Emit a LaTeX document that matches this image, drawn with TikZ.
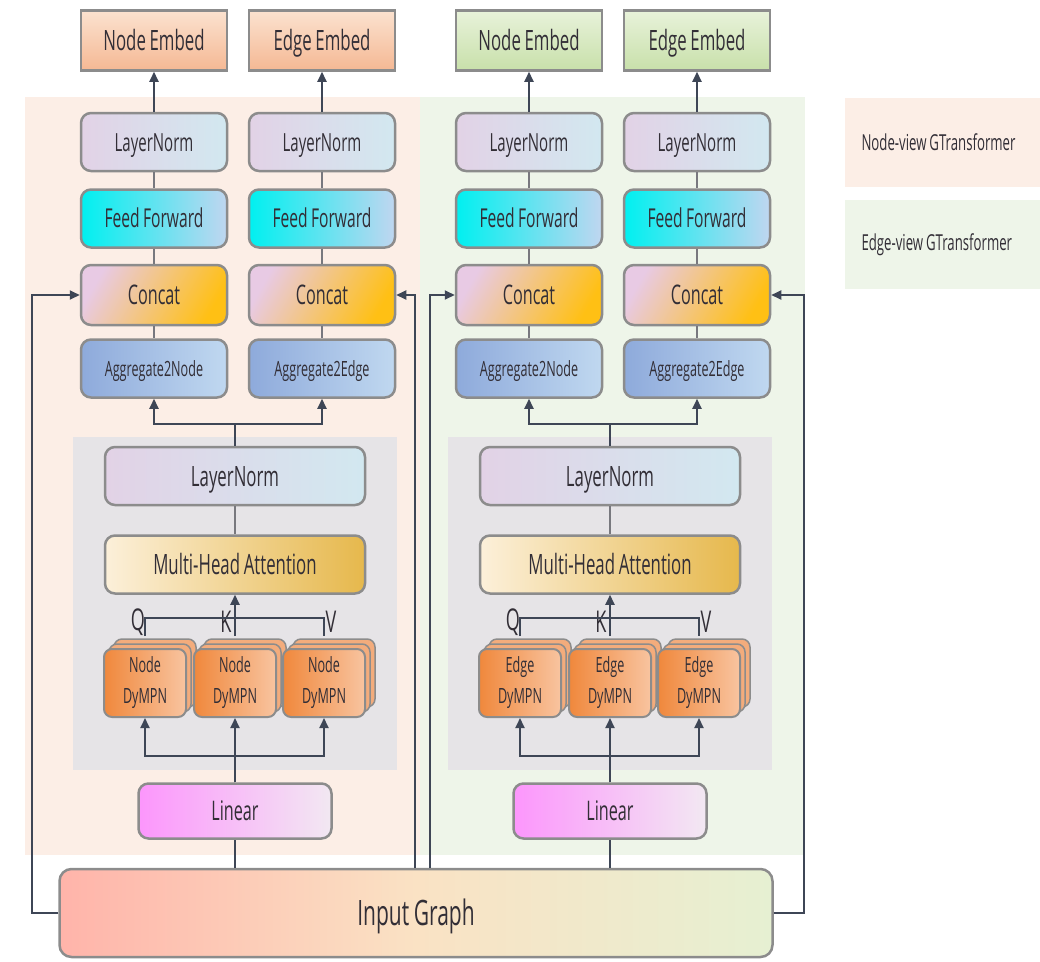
\documentclass[tikz,border=0pt]{standalone}
\usepackage{fontspec}
\setmainfont[FakeStretch=0.6, WordSpace=0.85]{Open Sans}
\usetikzlibrary{positioning,arrows.meta,shadows}
\definecolor{PeachBg}{RGB}{252,238,230}
\definecolor{GreenBg}{RGB}{238,245,233}
\definecolor{PanelGray}{RGB}{230,228,231}
\definecolor{BoxGray}{RGB}{140,140,140}
\definecolor{TextDark}{RGB}{50,46,54}
\definecolor{LineSlate}{RGB}{62,70,86}
\definecolor{LinkGray}{RGB}{120,120,126}
\definecolor{EmbNTop}{RGB}{251,226,208}
\definecolor{EmbNBot}{RGB}{245,184,148}
\definecolor{EmbETop}{RGB}{232,242,218}
\definecolor{EmbEBot}{RGB}{200,224,170}
\definecolor{LnLeft}{RGB}{226,210,230}
\definecolor{LnRight}{RGB}{210,232,240}
\definecolor{FfLeft}{RGB}{0,240,240}
\definecolor{FfRight}{RGB}{192,214,240}
\definecolor{CatLeft}{RGB}{232,202,228}
\definecolor{CatRight}{RGB}{255,192,20}
\definecolor{AggLeft}{RGB}{142,170,219}
\definecolor{AggRight}{RGB}{192,216,240}
\definecolor{MhaLeft}{RGB}{252,240,218}
\definecolor{MhaRight}{RGB}{230,184,76}
\definecolor{DyLeft}{RGB}{240,136,60}
\definecolor{DyRight}{RGB}{248,196,160}
\definecolor{DyBack}{RGB}{243,172,124}
\definecolor{LinLeft}{RGB}{252,150,252}
\definecolor{LinRight}{RGB}{242,232,242}
\definecolor{IgLeft}{RGB}{255,180,170}
\definecolor{IgMid}{RGB}{250,226,196}
\definecolor{IgRight}{RGB}{230,240,210}

\begin{document}
\begin{tikzpicture}[x=1pt, y=-1pt,
    block/.style={rectangle, rounded corners=10pt, draw=BoxGray, line width=2.5pt, minimum width=146pt, minimum height=58pt, align=center, text=TextDark, text height=18pt, text depth=0pt, font=\fontsize{25}{28}\selectfont},
    embed/.style={block, sharp corners, minimum height=60pt, text height=20pt, font=\fontsize{28}{30}\selectfont},
    lnfill/.style={left color=LnLeft, right color=LnRight},
    fffill/.style={left color=FfLeft, right color=FfRight, font=\fontsize{26}{28}\selectfont},
    catfill/.style={left color=CatLeft, right color=CatRight, shading angle=60, text height=19pt, font=\fontsize{27}{30}\selectfont},
    aggfill/.style={left color=AggLeft, right color=AggRight, text height=15pt, font=\fontsize{21}{24}\selectfont},
    dympn/.style={block, rounded corners=8pt, line width=2pt, minimum width=82pt, minimum height=68pt, text height={}, text depth={}, left color=DyLeft, right color=DyRight, font=\fontsize{21}{31}\selectfont, double copy shadow={shadow xshift=5pt, shadow yshift=5pt, fill=DyBack, draw=BoxGray, line width=1.5pt}},
    legend/.style={rectangle, minimum width=195pt, minimum height=89pt, inner xsep=17pt, text width=161pt, align=flush left, text=TextDark, font=\fontsize{22}{24}\selectfont},
    qkv/.style={text=TextDark, font=\fontsize{30}{32}\selectfont, inner sep=0pt},
    arrow/.style={-{Triangle[length=10pt, width=9pt]}, line width=2pt, draw=LineSlate},
    wire/.style={line width=2pt, draw=LineSlate},
    link/.style={line width=1.5pt, draw=LinkGray}
]
\useasboundingbox (0,0) rectangle (1040,961);
% view backgrounds and legend
\fill[PeachBg] (25,97) rectangle (420,855);
\fill[GreenBg] (420,97) rectangle (805,855);
\node[legend, fill=PeachBg] (lgn) at (942,142) {Node-view GTransformer};
\node[legend, fill=GreenBg, below=13pt of lgn] (lge) {Edge-view GTransformer};

\node[block, minimum width=713pt, minimum height=88pt, left color=IgLeft, right color=IgRight, middle color=IgMid, rounded corners=12pt, text height=25pt, font=\fontsize{35}{40}\selectfont] (ig) at (416,913) {Input Graph};

\foreach \v/\dx/\kind/\etop/\ebot in {n/0/Node/EmbNTop/EmbNBot, e/375/Edge/EmbETop/EmbEBot} {
  \fill[PanelGray] ({\dx+73},437) rectangle ({\dx+397},770);
  % output columns
  \foreach \c/\cx/\etext/\atext in {A/154/Node Embed/Aggregate2Node, B/322/Edge Embed/Aggregate2Edge} {
    \node[block, lnfill] (ln\c\v) at ({\dx+\cx},142) {LayerNorm};
    \node[embed, top color=\etop, bottom color=\ebot, above=40pt of ln\c\v] (emb\c\v) {\etext};
    \node[block, fffill, below=16pt of ln\c\v] (ff\c\v) {Feed Forward};
    \node[block, catfill, minimum height=60pt, below=15pt of ff\c\v] (cat\c\v) {Concat};
    \node[block, aggfill, below=12pt of cat\c\v] (agg\c\v) {\atext};
    \draw[arrow] (ln\c\v) -- (emb\c\v);
    \draw[link] (ln\c\v) -- (ff\c\v);
    \draw[link] (ff\c\v) -- (cat\c\v);
    \draw[link] (cat\c\v) -- (agg\c\v);
  }
  % attention block
  \node[block, lnfill, minimum width=260pt, text height=20pt, font=\fontsize{28}{30}\selectfont] (bigln\v) at ({\dx+235},476) {LayerNorm};
  \node[block, left color=MhaLeft, right color=MhaRight, minimum width=260pt, text height=20pt, font=\fontsize{28}{30}\selectfont, below=28pt of bigln\v] (mha\v) {Multi-Head Attention};
  \foreach \k/\kx in {1/145, 2/235, 3/324}
    \node[dympn] (dy\k\v) at ({\dx+\kx},683) {\kind\\DyMPN};
  \node[qkv] (q\v) at ({\dx+138},622) {Q};
  \node[qkv] (k\v) at ({\dx+226},622) {K};
  \node[qkv] (val\v) at ({\dx+331},622) {V};
  \node[block, left color=LinLeft, right color=LinRight, minimum width=193pt, minimum height=55pt, text height=19pt, font=\fontsize{27}{30}\selectfont] (lin\v) at ({\dx+235},811) {Linear};
  \draw[link] (bigln\v) -- (mha\v);
  \draw[arrow] (bigln\v.north) -- ++(0,-22) -| (aggA\v.south);
  \draw[arrow] (bigln\v.north) -- ++(0,-22) -| (aggB\v.south);
  \draw[wire] ([yshift=12pt]dy1\v.north) -- ++(0,-18) -| ([yshift=12pt]dy3\v.north);
  \draw[arrow] ([yshift=12pt]dy2\v.north) -- (mha\v.south);
  \draw[arrow] (lin\v.north) -- (dy2\v.south);
  \draw[arrow] (lin\v.north) -- ++(0,-26) -| (dy1\v.south);
  \draw[arrow] (lin\v.north) -- ++(0,-26) -| (dy3\v.south);
  \draw[wire] (ig.north -| lin\v) -- (lin\v.south);
}

% residual paths from the input graph
\coordinate (upn) at (415,0);
\coordinate (upe) at (430,0);
\draw[arrow] (ig.west) -- ++(-26,0) |- (catAn.west);
\draw[arrow] (ig.north -| upn) |- (catBn.east);
\draw[arrow] (ig.north -| upe) |- (catAe.west);
\draw[arrow] (ig.east) -- ++(30,0) |- (catBe.east);
\end{tikzpicture}
\end{document}
